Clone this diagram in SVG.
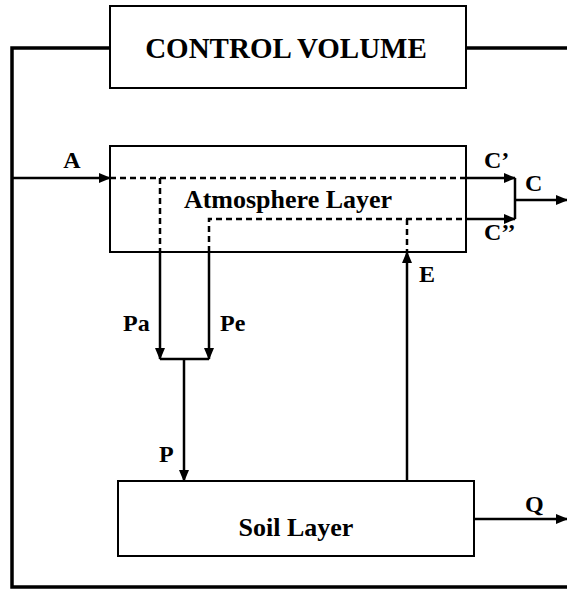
<svg xmlns="http://www.w3.org/2000/svg" width="567" height="589" viewBox="0 0 567 589">
<style>
.box{fill:#fff;stroke:#000;stroke-width:2}
.ln{fill:none;stroke:#000;stroke-width:2.5}
.dash{fill:none;stroke:#000;stroke-width:2.5;stroke-dasharray:6,4}
.frame{fill:none;stroke:#000;stroke-width:3.5}
text{font-family:"Liberation Serif","Times New Roman",serif;font-weight:bold;fill:#000}
.lbl{font-size:24px}
.big{font-size:29px}
.mid{font-size:26px}
</style>
<defs>
<marker id="ah" markerUnits="userSpaceOnUse" markerWidth="12" markerHeight="10" refX="11" refY="5" orient="auto">
<path d="M0,0 L12,5 L0,10 Z" fill="#000"/>
</marker>
</defs>
<g id="connectors">
<path class="frame" d="M110,48 H12 V587 H567"/>
<path class="frame" d="M466,48 H567"/>
<path class="ln" d="M12,178 H110" marker-end="url(#ah)"/>
<path class="dash" d="M110,178 H466"/>
<path class="ln" d="M466,178 H515" marker-end="url(#ah)"/>
<path class="dash" d="M160,178 V252"/>
<path class="ln" d="M160,252 V359" marker-end="url(#ah)"/>
<path class="dash" d="M209,252 V219 H466"/>
<path class="ln" d="M209,252 V359" marker-end="url(#ah)"/>
<path class="ln" d="M466,219 H515" marker-end="url(#ah)"/>
<path class="dash" d="M407,219 V252"/>
<path class="ln" d="M515,178 V219"/>
<path class="ln" d="M515,200 H567" marker-end="url(#ah)"/>
<path class="ln" d="M160,359 H209"/>
<path class="ln" d="M184,359 V481" marker-end="url(#ah)"/>
<path class="ln" d="M407,481 V252" marker-end="url(#ah)"/>
<path class="ln" d="M474,519 H567" marker-end="url(#ah)"/>
</g>
<g id="control-volume">
<rect class="box" x="110" y="6" width="356" height="82"/>
<text class="big" x="286" y="58" text-anchor="middle">CONTROL VOLUME</text>
</g>
<g id="atmosphere-layer">
<rect class="box" x="110" y="146" width="356" height="106" style="fill:none"/>
<text class="mid" x="288" y="208" text-anchor="middle">Atmosphere Layer</text>
</g>
<g id="soil-layer">
<rect class="box" x="118" y="481" width="356" height="75"/>
<text class="mid" x="296" y="536" text-anchor="middle">Soil Layer</text>
</g>
<g id="labels">
<text class="lbl" x="72" y="168" text-anchor="middle">A</text>
<text class="lbl" x="484" y="168">C’</text>
<text class="lbl" x="525" y="191">C</text>
<text class="lbl" x="484" y="240">C’’</text>
<text class="lbl" x="419" y="282">E</text>
<text class="lbl" x="123" y="331">Pa</text>
<text class="lbl" x="220" y="331">Pe</text>
<text class="lbl" x="159" y="462">P</text>
<text class="lbl" x="525" y="512">Q</text>
</g>
</svg>
